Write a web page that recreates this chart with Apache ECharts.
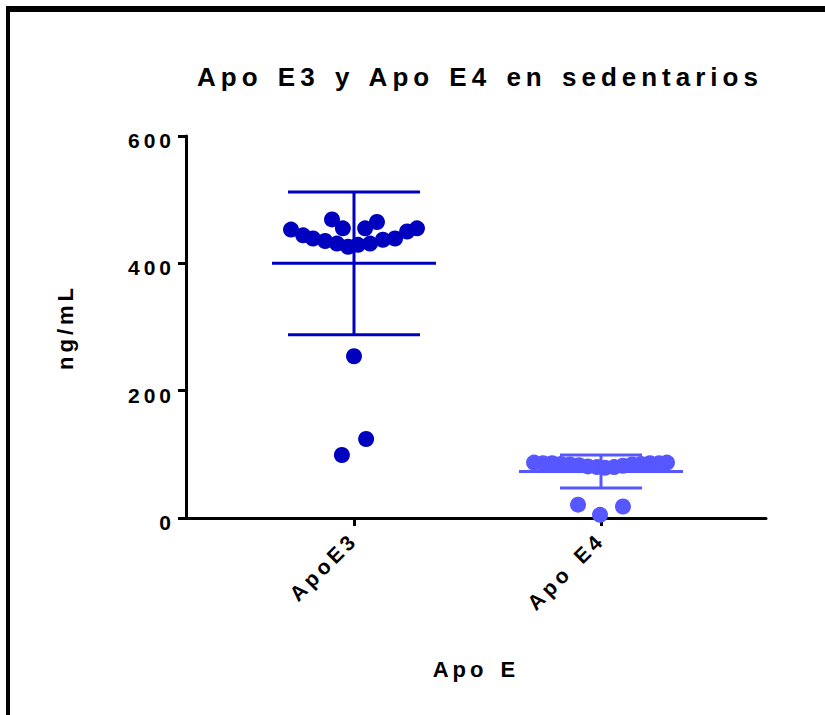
<!DOCTYPE html>
<html><head><meta charset="utf-8">
<script src="https://cdn.jsdelivr.net/npm/echarts@6/dist/echarts.min.js"></script>
<style>
html,body{margin:0;padding:0;background:#fff;}
#main{width:825px;height:715px;}
#main svg text{letter-spacing:4px;word-spacing:3px;}
#main svg text[style*="26px"]{letter-spacing:5px;word-spacing:3px;}
</style></head><body><div id="main"></div>
<script>
// Categories and tick labels
const categories = ['ApoE3', 'Apo E4'];
const yTicks = [0, 200, 400, 600];

// Apo E3 values (ng/mL) and their horizontal scatter offsets (category units)
const e3Values = [453, 444, 439, 435, 469, 431, 455, 426, 429, 455, 431, 465, 437, 439, 450, 455, 254, 99, 124];
const e3Jitter = [-0.255, -0.206, -0.166, -0.117, -0.089, -0.069, -0.045, -0.024, 0.016, 0.045, 0.065, 0.093, 0.117, 0.166, 0.215, 0.255, 0, -0.049, 0.049];

// Apo E4 values (ng/mL) and offsets
const e4Values = [87, 86, 86, 85, 84, 83, 81, 80, 79, 80, 82, 84, 85, 86, 86, 87, 21, 5, 18];
const e4Jitter = [-0.271, -0.235, -0.198, -0.162, -0.126, -0.089, -0.053, -0.016, 0.016, 0.053, 0.089, 0.126, 0.162, 0.198, 0.235, 0.267, -0.093, -0.004, 0.089];

// Mean and SD per group
const means = [400, 73];
const sds = [112, 26];

const colors = ['#0000BF', '#5757FF'];
const FONT = "Arial, 'Liberation Sans', sans-serif";

const e3Data = e3Values.map((v, i) => [1 + e3Jitter[i], v]);
const e4Data = e4Values.map((v, i) => [2 + e4Jitter[i], v]);
const barData = means.map((m, i) => [i + 1, m, sds[i]]);

const meanHalf = [82, 82];
const capHalf = [66, 41];

const chart = echarts.init(document.getElementById('main'), null, {renderer: 'svg'});
chart.setOption({
  backgroundColor: '#ffffff',
  animation: false,
  title: {
    text: 'Apo E3 y Apo E4 en sedentarios',
    left: 475, top: 59, textAlign: 'center',
    textStyle: {fontFamily: FONT, fontSize: 26, fontWeight: 'bold', color: '#000'}
  },
  grid: {left: 186, right: 59, top: 136, bottom: 197},
  xAxis: {
    type: 'value', min: 0.31984, max: 2.66802,
    name: 'Apo E', nameLocation: 'middle', nameGap: 140,
    nameTextStyle: {fontFamily: FONT, fontSize: 22, fontWeight: 'bold', color: '#000'},
    axisLine: {show: true, onZero: false, lineStyle: {color: '#000', width: 3}},
    axisTick: {show: true, customValues: [1, 2], length: 8, lineStyle: {color: '#000', width: 3}},
    axisLabel: {
      customValues: [1, 2], rotate: 45, margin: 18,
      formatter: v => categories[Math.round(v) - 1] || '',
      fontFamily: FONT, fontSize: 21, fontWeight: 'bold', color: '#000'
    },
    splitLine: {show: false}
  },
  yAxis: {
    type: 'value', min: 0, max: 600, interval: 200,
    name: 'ng/mL', nameLocation: 'middle', nameGap: 110, nameRotate: 90,
    nameTextStyle: {fontFamily: FONT, fontSize: 22, fontWeight: 'bold', color: '#000'},
    axisLine: {show: true, lineStyle: {color: '#000', width: 3}},
    axisTick: {show: true, length: 8, lineStyle: {color: '#000', width: 3}},
    axisLabel: {
      margin: 11, customValues: yTicks,
      formatter: v => '{a|' + v + '}',
      rich: {a: {fontFamily: FONT, fontSize: 21, fontWeight: 'bold', color: '#000', padding: [9, 0, 0, 0]}}
    },
    splitLine: {show: false}
  },
  graphic: [
    {type: 'rect', shape: {x: 6, y: 6, width: 830, height: 6}, style: {fill: '#000'}, z: 100},
    {type: 'rect', shape: {x: 6, y: 6, width: 4, height: 720}, style: {fill: '#000'}, z: 100}
  ],
  series: [
    {type: 'scatter', data: e3Data, symbolSize: 16, itemStyle: {color: colors[0], opacity: 1}, z: 2},
    {type: 'scatter', data: e4Data, symbolSize: 16, itemStyle: {color: colors[1], opacity: 1}, z: 2},
    {
      type: 'custom', data: barData, z: 3,
      renderItem: function (params, api) {
        const i = params.dataIndex;
        const x = api.value(0), m = api.value(1), s = api.value(2);
        const c = api.coord([x, m]);
        const t = api.coord([x, m + s]);
        const b = api.coord([x, m - s]);
        const st = {stroke: colors[i], lineWidth: 3};
        return {
          type: 'group',
          children: [
            {type: 'line', shape: {x1: c[0] - meanHalf[i], y1: c[1], x2: c[0] + meanHalf[i], y2: c[1]}, style: st},
            {type: 'line', shape: {x1: t[0], y1: t[1], x2: b[0], y2: b[1]}, style: st},
            {type: 'line', shape: {x1: t[0] - capHalf[i], y1: t[1], x2: t[0] + capHalf[i], y2: t[1]}, style: st},
            {type: 'line', shape: {x1: b[0] - capHalf[i], y1: b[1], x2: b[0] + capHalf[i], y2: b[1]}, style: st}
          ]
        };
      }
    }
  ]
});
</script></body></html>
